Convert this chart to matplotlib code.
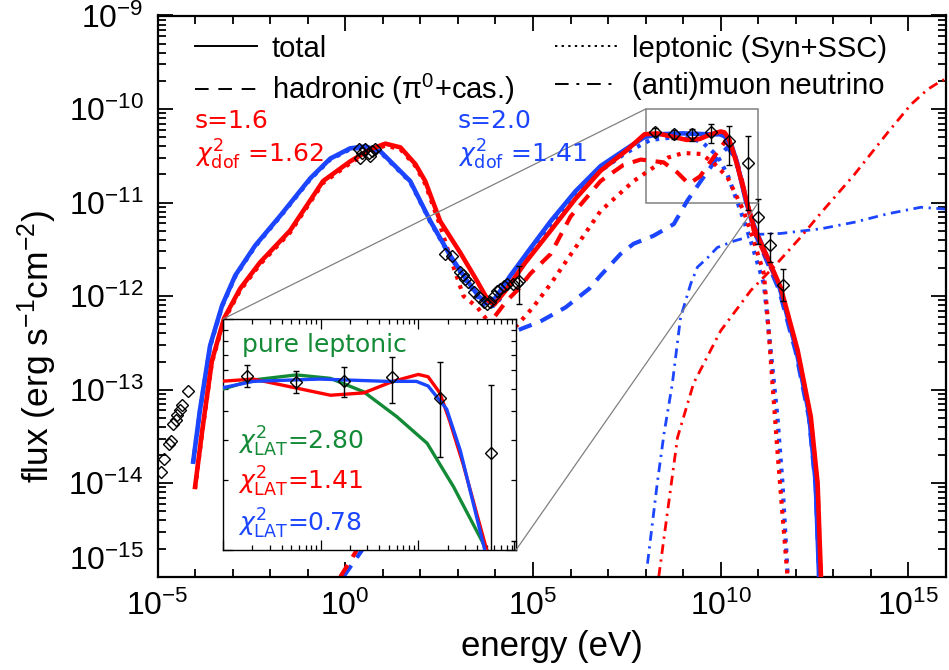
import numpy as np
import matplotlib
matplotlib.use('Agg')
import matplotlib.pyplot as plt
from matplotlib.lines import Line2D
from matplotlib.patches import Rectangle, ConnectionPatch
from matplotlib.ticker import FixedLocator, NullFormatter

plt.rcParams['font.family'] = ['Liberation Sans', 'DejaVu Sans']
plt.rcParams['mathtext.fontset'] = 'custom'
plt.rcParams['mathtext.rm'] = 'Liberation Sans'
plt.rcParams['mathtext.it'] = 'Liberation Sans:italic'
plt.rcParams['mathtext.bf'] = 'Liberation Sans:bold'

RED = '#ff0000'
BLUE = '#1b45ff'
GREEN = '#138a36'

# ---------------- data (log10 E [eV], log10 flux [erg s^-1 cm^-2]) -------------
radio_logE = [-4.915, -4.827, -4.693, -4.648, -4.579, -4.515, -4.472, -4.40, -4.339, -4.195]
radio_logF = [-13.879, -13.737, -13.584, -13.549, -13.371, -13.321, -13.267, -13.221, -13.168, -13.015]

opt_logE = [0.355, 0.40, 0.445, 0.533, 0.621, 0.667, 0.712, 0.80]
opt_logF = [-10.43, -10.519, -10.466, -10.43, -10.466, -10.501, -10.448, -10.43]

xray_logE = [2.667, 2.845, 3.067, 3.139, 3.20, 3.261, 3.44, 3.555, 3.688, 3.779, 3.867,
             3.955, 4.045, 4.133, 4.24, 4.312, 4.472, 4.579, 4.621]
xray_logF = [-11.55, -11.568, -11.746, -11.771, -11.817, -11.853, -11.959, -12.013, -12.059,
             -12.083, -12.066, -11.995, -11.941, -11.923, -11.888, -11.87, -11.87, -11.863, -11.835]
xray_err_logE = [4.621]
xray_err_logF = [-11.835]
xray_err_hi = [-11.675]
xray_err_lo = [-12.08]

gam_logE = [8.25, 8.75, 9.24, 9.73, 10.22, 10.74, 10.98, 11.31, 11.67]
gam_logF = [-10.245, -10.271, -10.268, -10.25, -10.343, -10.581, -11.152, -11.45, -11.88]
gam_hi = [-10.199, -10.224, -10.209, -10.163, -10.185, -10.286, -10.96, -11.32, -11.71]
gam_lo = [-10.293, -10.322, -10.339, -10.362, -10.599, -11.083, -11.44, -11.64, -12.05]

# s = 2.0 (blue) model
blue_tot_E = [-4.05, -3.87, -3.6, -3.28, -2.93, -2.4, -1.73, -0.93, -0.4, 0.13, 0.53, 0.93, 1.33,
              1.73, 2.27, 2.8, 3.2, 3.55, 3.76, 4.0, 4.4, 4.93, 5.47, 6.13, 6.8, 7.47, 7.97, 8.31,
              8.99, 9.68, 9.98, 10.10, 10.29, 10.43, 10.68, 10.88, 11.2, 11.55, 12.0, 12.35,
              12.53, 12.62]
blue_tot_F = [-13.77, -13.22, -12.53, -12.10, -11.78, -11.46, -11.14, -10.74, -10.53, -10.42,
              -10.40, -10.45, -10.61, -10.77, -11.20, -11.57, -11.81, -12.00, -12.07, -12.02,
              -11.78, -11.49, -11.20, -10.88, -10.61, -10.43, -10.30, -10.27, -10.26, -10.27,
              -10.27, -10.29, -10.39, -10.57, -11.0, -11.24, -11.55, -11.88, -12.55, -13.25,
              -14.0, -15.0]
blue_had_E = [-0.05, 1.0, 2.5, 3.8, 4.56, 5.2, 5.87, 6.5, 6.8, 7.33, 7.68, 8.21, 8.75, 9.11,
              9.47, 9.91, 10.18, 10.35, 10.53, 10.88, 11.2, 11.55, 12.0, 12.35, 12.53, 12.62]
blue_had_F = [-15.0, -14.4, -13.55, -12.8, -12.37, -12.27, -12.12, -11.92, -11.78, -11.55,
              -11.44, -11.355, -11.23, -10.98, -10.77, -10.52, -10.41, -10.50, -10.72, -11.30,
              -11.60, -11.93, -12.60, -13.30, -14.05, -15.0]
blue_lep_E = [-4.05, -3.87, -3.6, -3.28, -2.93, -2.4, -1.73, -0.93, -0.4, 0.13, 0.53, 0.93, 1.33,
              1.73, 2.27, 2.8, 3.2, 3.55, 3.76, 4.0, 4.4, 4.93, 5.47, 6.13, 6.8, 7.47, 8.13, 8.8,
              9.28, 9.55, 9.91, 10.18, 10.53, 10.8, 11.15, 11.33, 11.51, 11.645, 11.78]
blue_lep_F = [-13.78, -13.23, -12.54, -12.11, -11.79, -11.47, -11.15, -10.75, -10.54, -10.43,
              -10.41, -10.46, -10.62, -10.78, -11.21, -11.58, -11.83, -12.02, -12.12, -12.10,
              -11.86, -11.55, -11.25, -10.92, -10.66, -10.47, -10.33, -10.30, -10.32, -10.37,
              -10.50, -10.70, -11.09, -11.41, -11.87, -12.58, -13.29, -14.0, -14.96]
blue_nu_E = [8.05, 8.31, 8.49, 8.71, 8.93, 9.2, 9.38, 9.65, 9.91, 10.36, 10.98, 11.6, 12.67,
             13.56, 14.45, 15.33, 16.0]
blue_nu_F = [-14.86, -14.0, -13.47, -12.94, -12.23, -11.87, -11.69, -11.59, -11.48, -11.41,
             -11.34, -11.33, -11.28, -11.21, -11.12, -11.05, -11.07]

# s = 1.6 (red) model
red_tot_E = [-4.0, -3.81, -3.55, -3.23, -2.8, -2.27, -1.47, -0.59, 0.13, 0.67, 1.07, 1.47, 1.87,
             2.13, 2.53, 3.07, 3.47, 3.81, 3.97, 4.27, 4.8, 5.47, 6.13, 6.8, 7.47, 7.97, 8.31,
             8.65, 9.10, 9.44, 9.74, 10.0, 10.10, 10.22, 10.32, 10.46, 10.70, 10.89, 11.25,
             11.6, 12.05, 12.4, 12.58, 12.67]
red_tot_F = [-14.04, -13.44, -12.69, -12.24, -11.92, -11.64, -11.30, -10.77, -10.56, -10.43,
             -10.37, -10.41, -10.59, -10.77, -11.20, -11.54, -11.81, -12.05, -12.09, -11.94,
             -11.64, -11.30, -10.96, -10.66, -10.45, -10.27, -10.26, -10.29, -10.33, -10.32,
             -10.27, -10.24, -10.25, -10.32, -10.44, -10.63, -11.0, -11.27, -11.59, -11.91,
             -12.58, -13.29, -14.0, -15.0]
red_had_E = [-0.13, 0.27, 1.5, 2.7, 3.6, 3.92, 4.3, 4.6, 4.93, 5.47, 6.0, 6.8, 7.4, 7.87, 8.48,
             8.85, 9.15, 9.45, 9.73, 10.13, 10.35, 10.53, 10.88, 11.25, 11.6, 12.05, 12.4,
             12.58, 12.66]
red_had_F = [-15.0, -14.74, -13.9, -13.1, -12.5, -12.25, -12.05, -11.93, -11.76, -11.55,
             -11.15, -10.77, -10.60, -10.54, -10.57, -10.68, -10.80, -10.72, -10.56, -10.34,
             -10.45, -10.70, -11.30, -11.62, -11.93, -12.62, -13.33, -14.03, -15.0]
red_lep_E = [-4.0, -3.81, -3.55, -3.23, -2.8, -2.27, -1.47, -0.59, 0.13, 0.67, 1.07, 1.47, 1.87,
             2.13, 2.53, 2.85, 3.15, 3.52, 3.9, 4.2, 4.58, 5.0, 5.47, 6.1, 6.8, 7.68, 8.59, 9.0,
             9.47, 9.81, 10.18, 10.61, 10.88, 11.15, 11.25, 11.38, 11.51, 11.65, 11.78]
red_lep_F = [-14.06, -13.46, -12.71, -12.26, -11.94, -11.66, -11.32, -10.79, -10.58, -10.45,
             -10.39, -10.43, -10.61, -10.80, -11.25, -11.65, -12.00, -12.12, -12.32, -12.40,
             -12.31, -12.12, -11.87, -11.50, -11.09, -10.77, -10.52, -10.47, -10.48, -10.575,
             -10.73, -11.09, -11.41, -11.76, -12.23, -12.94, -13.65, -14.36, -15.0]
red_nu_E = [8.35, 8.85, 9.28, 10.0, 10.8, 11.41, 12.13, 12.67, 13.56, 14.45, 15.07, 15.51,
            15.87, 16.0]
red_nu_F = [-15.0, -13.51, -12.93, -12.37, -11.94, -11.69, -11.37, -11.11, -10.70, -10.25,
            -9.95, -9.79, -9.70, -9.68]

# pure leptonic fit (inset only)
pure_E = [7.97, 8.31, 8.75, 9.10, 9.44, 9.78, 10.09, 10.36, 10.70]
pure_F = [-10.307, -10.264, -10.242, -10.257, -10.315, -10.423, -10.538, -10.726, -11.0]


def P(a):
    return 10.0 ** np.asarray(a, dtype=float)


fig = plt.figure(figsize=(9.49, 6.70), dpi=100)
W, H = 949.0, 670.0
ax = fig.add_axes([157.5 / W, 1 - 576.75 / H, (946 - 157.5) / W, (576.75 - 15.5) / H])
ax.set_xscale('log')
ax.set_yscale('log')
ax.set_xlim(1e-5, 1e16)
ax.set_ylim(1e-15, 1e-9)

LW_TOT = 3.3
LW_HAD = 3.0
LW_LEP = 3.0
LW_NU = 2.0
dash = (0, (3.3, 2.3))
dot = (0, (0.9, 1.5))
dashdot = (0, (3.5, 2.0, 0.8, 2.0))

# components (blue first, red over)
ax.plot(P(blue_nu_E), P(blue_nu_F), color=BLUE, lw=LW_NU, ls=dashdot, zorder=2)
ax.plot(P(red_nu_E), P(red_nu_F), color=RED, lw=LW_NU, ls=dashdot, zorder=2.1)
ax.plot(P(blue_had_E), P(blue_had_F), color=BLUE, lw=LW_HAD, ls=dash, zorder=2.2)
ax.plot(P(red_had_E), P(red_had_F), color=RED, lw=LW_HAD, ls=dash, zorder=2.3)
ax.plot(P(blue_lep_E), P(blue_lep_F), color=BLUE, lw=LW_LEP, ls=dot, zorder=2.4)
ax.plot(P(red_lep_E), P(red_lep_F), color=RED, lw=LW_LEP, ls=dot, zorder=2.5)
ax.plot(P(blue_tot_E), P(blue_tot_F), color=BLUE, lw=LW_TOT, zorder=3)
ax.plot(P(red_tot_E), P(red_tot_F), color=RED, lw=LW_TOT, zorder=3.1)

mk = dict(marker='D', ms=6.2, mfc='none', mec='black', mew=1.0, ls='none', zorder=4)
ax.plot(P(radio_logE), P(radio_logF), **mk)
ax.plot(P(opt_logE), P(opt_logF), **mk)
ax.plot(P(xray_logE), P(xray_logF), **mk)
ax.errorbar(P(xray_err_logE), P(xray_err_logF),
            yerr=[P(xray_err_logF) - P(xray_err_lo), P(xray_err_hi) - P(xray_err_logF)],
            fmt='none', ecolor='black', elinewidth=1.0, capsize=2.5, zorder=4)
ax.plot(P(gam_logE), P(gam_logF), **mk)
ax.errorbar(P(gam_logE), P(gam_logF),
            yerr=[P(gam_logF) - P(gam_lo), P(gam_hi) - P(gam_logF)],
            fmt='none', ecolor='black', elinewidth=1.0, capsize=2.5, zorder=4)

# zoom box
ax.add_patch(Rectangle((1e8, 1e-11), 1e11 - 1e8, 1e-10 - 1e-11, fill=False,
                       ec='#808080', lw=1.1, zorder=1.5))

# ticks
ax.xaxis.set_major_locator(FixedLocator([1e-5, 1e0, 1e5, 1e10, 1e15]))
ax.xaxis.set_minor_locator(FixedLocator([10.0 ** k for k in range(-5, 17)]))
ax.xaxis.set_minor_formatter(NullFormatter())
ax.set_xticklabels([r'$\mathregular{10^{-5}}$', r'$\mathregular{10^{0}}$',
                    r'$\mathregular{10^{5}}$', r'$\mathregular{10^{10}}$',
                    r'$\mathregular{10^{15}}$'])
ydec = list(range(-15, -8))
ax.yaxis.set_major_locator(FixedLocator([10.0 ** k for k in ydec]))
ax.yaxis.set_minor_locator(FixedLocator([m * 10.0 ** k for k in range(-15, -9) for m in range(2, 10)]))
ax.yaxis.set_minor_formatter(NullFormatter())
ax.set_yticklabels([r'$\mathregular{10^{%d}}$' % k for k in ydec])
ax.tick_params(which='both', direction='in', top=True, right=True, width=1.3, labelsize=23)
ax.tick_params(which='major', length=11, pad=10)
ax.tick_params(which='minor', length=5.5)
for s in ax.spines.values():
    s.set_linewidth(1.6)
yt = ax.yaxis.get_major_ticks()
yt[0].label1.set_verticalalignment('bottom')

ax.set_xlabel('energy (eV)', fontsize=25, labelpad=6)
ax.set_ylabel(r'flux (erg s$^{\mathregular{-1}}$cm$^{\mathregular{-2}}$)', fontsize=25.5)
ax.yaxis.set_label_coords(-0.125, 0.41)

# legend
handles = [Line2D([], [], color='k', lw=1.4, ls='-'),
           Line2D([], [], color='k', lw=1.4, ls=(0, (7, 5))),
           Line2D([], [], color='k', lw=1.4, ls=(0, (1.2, 2.2))),
           Line2D([], [], color='k', lw=1.4, ls=(0, (7, 4, 1.5, 4)))]
labels = ['total', u'hadronic (\u03c0$^{\\mathregular{0}}$+cas.)', 'leptonic (Syn+SSC)',
          '(anti)muon neutrino']
ax.legend(handles, labels, ncol=2, loc='upper left', bbox_to_anchor=(0.047, 0.966),
          frameon=False, fontsize=21, handlelength=2.15, handletextpad=0.5,
          columnspacing=1.4, labelspacing=0.32, borderpad=0, borderaxespad=0)

# annotations
ann = dict(fontsize=18, family='DejaVu Sans', math_fontfamily='dejavusans', va='baseline')
fig.text(195 / W, 1 - 128 / H, 's=1.6', color=RED, **ann)
fig.text(195 / W, 1 - 163 / H, r'$\chi^2_{\rm dof}$ =1.62', color=RED, **ann)
fig.text(458 / W, 1 - 128 / H, 's=2.0', color=BLUE, **ann)
fig.text(458 / W, 1 - 163 / H, r'$\chi^2_{\rm dof}$ =1.41', color=BLUE, **ann)

# inset
axi = fig.add_axes([223 / W, 1 - 550 / H, 293 / W, 231 / H])
axi.set_xscale('log')
axi.set_yscale('log')
axi.set_xlim(1e8, 1e11)
axi.set_ylim(1e-11, 1e-10)
axi.plot(P(pure_E), P(pure_F), color=GREEN, lw=2.4, zorder=3)
axi.plot(P(blue_tot_E), P(blue_tot_F), color=BLUE, lw=2.4, zorder=3.1)
axi.plot(P(red_tot_E), P(red_tot_F), color=RED, lw=2.4, zorder=3.05)
axi.plot(P(gam_logE), P(gam_logF), **mk)
axi.errorbar(P(gam_logE), P(gam_logF),
             yerr=[P(gam_logF) - P(gam_lo), P(gam_hi) - P(gam_logF)],
             fmt='none', ecolor='black', elinewidth=1.0, capsize=2.5, zorder=4)
axi.tick_params(which='both', direction='in', top=True, right=True, width=0.9,
                labelbottom=False, labelleft=False)
axi.tick_params(which='major', length=7)
axi.tick_params(which='minor', length=3.5)
axi.xaxis.set_major_locator(FixedLocator([1e8, 1e9, 1e10, 1e11]))
axi.xaxis.set_minor_locator(FixedLocator([m * 10.0 ** k for k in range(8, 11) for m in range(2, 10)]))
axi.yaxis.set_minor_locator(FixedLocator([m * 1e-11 for m in range(2, 10)]))
axi.xaxis.set_minor_formatter(NullFormatter())
axi.yaxis.set_minor_formatter(NullFormatter())
for s in axi.spines.values():
    s.set_linewidth(1.0)

ann2 = dict(fontsize=18, family='DejaVu Sans', math_fontfamily='dejavusans', va='baseline')
fig.text(242 / W, 1 - 352 / H, 'pure leptonic', color=GREEN, **ann2)
fig.text(238 / W, 1 - 450 / H, r'$\chi^2_{\rm LAT}$=2.80', color=GREEN, **ann2)
fig.text(238 / W, 1 - 490 / H, r'$\chi^2_{\rm LAT}$=1.41', color=RED, **ann2)
fig.text(238 / W, 1 - 532 / H, r'$\chi^2_{\rm LAT}$=0.78', color=BLUE, **ann2)

# connector lines
for a, b in [((1e8, 1e-10), (0, 1)), ((1e11, 1e-11), (1, 0))]:
    con = ConnectionPatch(xyA=a, coordsA=ax.transData, xyB=b, coordsB=axi.transAxes,
                          color='#808080', lw=0.9)
    fig.add_artist(con)

fig.savefig('out.png', dpi=100)
